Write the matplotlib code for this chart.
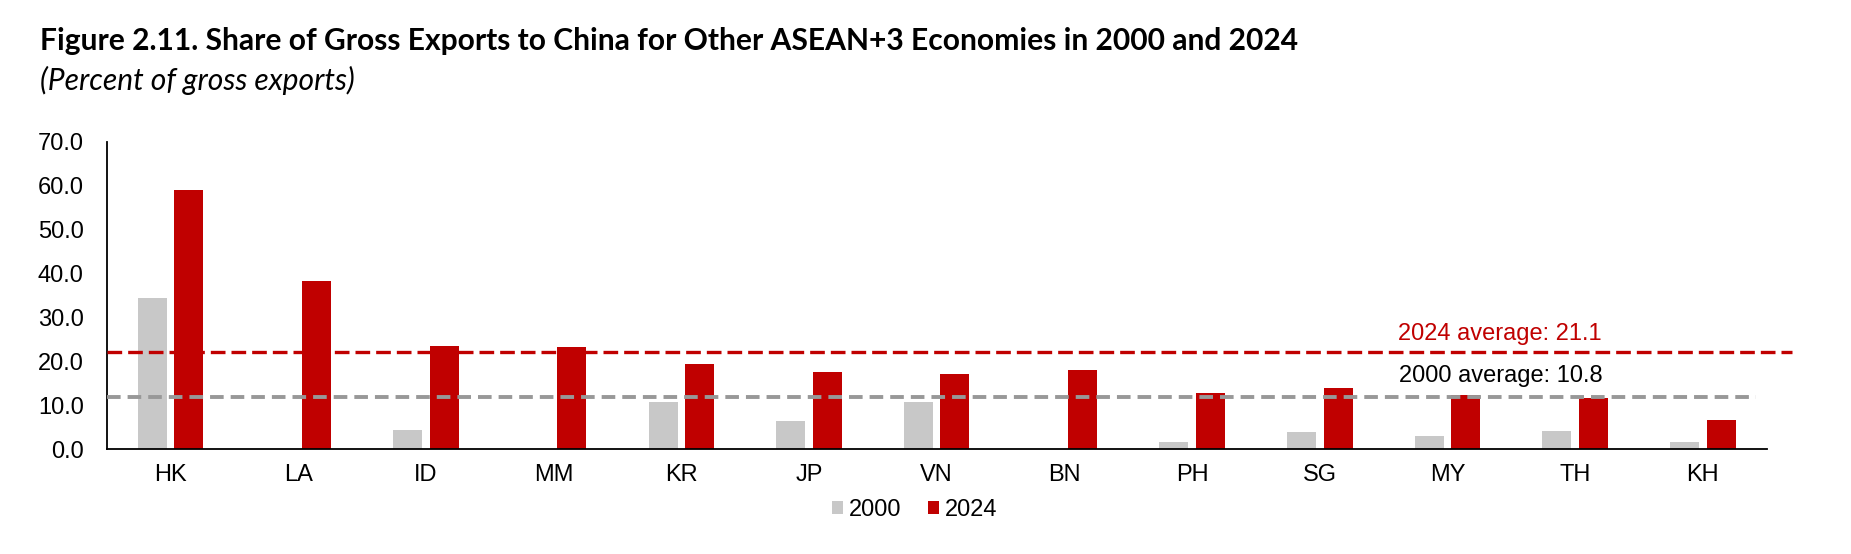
import matplotlib
matplotlib.use("Agg")
import matplotlib.pyplot as plt
from matplotlib import font_manager
import numpy as np

# ---- data ----
categories = ["HK", "LA", "ID", "MM", "KR", "JP", "VN", "BN", "PH", "SG", "MY", "TH", "KH"]
share_2000 = [34.4, 0.0, 4.4, 0.0, 10.8, 6.4, 10.6, 0.0, 1.6, 3.9, 3.0, 4.0, 1.6]
share_2024 = [59.0, 38.3, 23.5, 23.2, 19.4, 17.6, 17.1, 18.1, 12.7, 14.0, 12.3, 11.7, 6.6]
avg_2024_level = 22.0
avg_2000_level = 11.9
avg_2024_label = "2024 average: 21.1"
avg_2000_label = "2000 average: 10.8"
series_labels = ["2000", "2024"]
yticks = [0, 10, 20, 30, 40, 50, 60, 70]
title = "Figure 2.11. Share of Gross Exports to China for Other ASEAN+3 Economies in 2000 and 2024"
subtitle = "(Percent of gross exports)"

# ---- style ----
GRAY = "#C8C8C8"
RED = "#C00000"
GRAY_LINE = "#989898"
W, H = 1851, 554
DPI = 100
plt.rcParams['font.family'] = ['Liberation Sans', 'DejaVu Sans']

installed = {f.name for f in font_manager.fontManager.ttflist}
title_family = 'Liberation Sans Narrow' if 'Liberation Sans Narrow' in installed else 'Lato'

fig = plt.figure(figsize=(W / DPI, H / DPI), dpi=DPI)
ax = fig.add_axes([106.7 / W, 1 - 449 / H, (1766.7 - 106.7) / W, (449 - 141.7) / H])

x = np.arange(len(categories))
bw = 0.227
off = 0.143
ax.bar(x - off, share_2000, bw, color=GRAY, label=series_labels[0], zorder=2)
ax.bar(x + off, share_2024, bw, color=RED, label=series_labels[1], zorder=2)

ax.set_xlim(-0.5, len(categories) - 0.5)
ax.set_ylim(0, 70)
ax.set_yticks(yticks)
ax.set_yticklabels([f"{v:.1f}" for v in yticks])
ax.set_xticks(x)
ax.set_xticklabels(categories)
ax.tick_params(axis='y', length=0, pad=16.5, labelsize=17)
ax.tick_params(axis='x', length=0, pad=11, labelsize=17)
for s in ["top", "right"]:
    ax.spines[s].set_visible(False)
for s in ["left", "bottom"]:
    ax.spines[s].set_linewidth(1.3)
    ax.spines[s].set_color("black")

# average lines
x0 = -0.5
ax.plot([x0, len(categories) - 0.5 + 0.196], [avg_2024_level] * 2, color=RED, lw=2.4,
        dashes=(4.4, 1.8), clip_on=False, zorder=3, dash_capstyle='butt')
ax.plot([x0, len(categories) - 0.5 - 0.084], [avg_2000_level] * 2, color=GRAY_LINE, lw=2.8,
        dashes=(3.5, 1.8), clip_on=False, zorder=3, dash_capstyle='butt')
ax.text(9.61, 24.8, avg_2024_label, color=RED, fontsize=17, ha='left', va='baseline')
ax.text(9.62, 15.3, avg_2000_label, color='black', fontsize=17, ha='left', va='baseline')

leg = fig.legend(loc='center', bbox_to_anchor=(914.7 / W, 1 - 510 / H), ncol=2, frameon=False,
                 fontsize=17, handlelength=0.47, handleheight=0.47, handletextpad=0.25,
                 columnspacing=1.15, borderpad=0, borderaxespad=0)

# titles, fitted to measured widths
renderer = fig.canvas.get_renderer()
def fitted_text(xpx, ypx, s, target_w, **kw):
    t = fig.text(xpx / W, 1 - ypx / H, s, va='baseline', ha='left', fontsize=18, **kw)
    bb = t.get_window_extent(renderer=renderer)
    t.set_fontsize(18 * target_w / bb.width)
    return t

fitted_text(40, 50, title, 1260, family=[title_family, 'DejaVu Sans'], fontweight='bold')
fitted_text(40, 90, subtitle, 315, family=[title_family, 'DejaVu Sans'], fontstyle='italic')

fig.savefig("out.png", dpi=DPI)
